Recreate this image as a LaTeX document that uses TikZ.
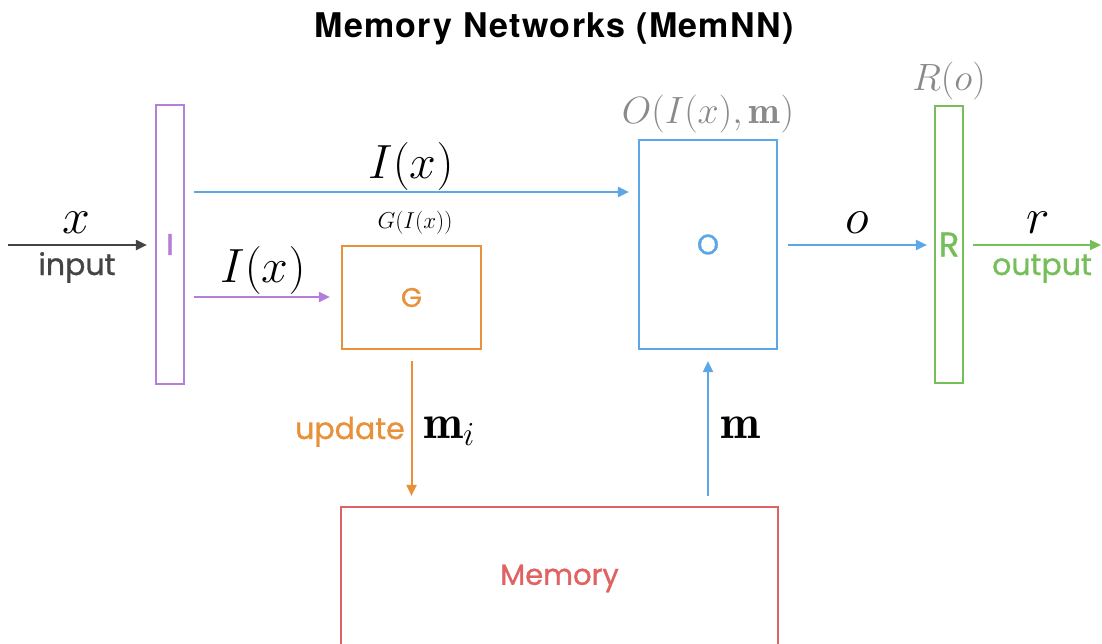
\RequirePackage{fix-cm}
\documentclass[tikz,border=0pt]{standalone}
\usepackage{fontspec}
\newfontfamily\titlefont[LetterSpace=4]{TeX Gyre Heros}
\newfontfamily\labelfont[FakeBold=1]{Poppins}
\usetikzlibrary{arrows.meta}

\definecolor{cPurple}{HTML}{B47FDB}
\definecolor{cBlue}{HTML}{5BA7E8}
\definecolor{cOrange}{HTML}{E8913A}
\definecolor{cGreen}{HTML}{76BE58}
\definecolor{cRed}{HTML}{DF6363}
\definecolor{cGray}{HTML}{8A8A8A}
\definecolor{cDark}{HTML}{444444}

\newcommand{\fs}[1]{\fontsize{#1}{#1}\selectfont}

\tikzset{
  unitbox/.style={draw=#1, text=#1, line width=2.2pt, inner sep=0pt,
    font=\labelfont},
  flow/.style={draw=#1, line width=2pt, -{Triangle[length=11pt,width=10pt]}},
  mathlbl/.style={anchor=base, inner sep=0pt},
  wordlbl/.style={anchor=base, inner sep=0pt, font=\labelfont\fs{30}},
}

\begin{document}
\begin{tikzpicture}[x=1pt, y=-1pt]
\useasboundingbox (0,0) rectangle (1102,643);
\clip (0,0) rectangle (1102,643);
\fill[white] (0,0) rectangle (1102,643);

% title
\node[anchor=base, inner sep=0pt, font=\titlefont\bfseries\fs{34}] (title) at (554,37) {Memory Networks (MemNN)};

% components
\node[unitbox=cPurple, minimum width=28pt, minimum height=279pt] (I) at (170,244.5) {\fs{30}I};
\node[unitbox=cOrange, minimum width=139pt, minimum height=103pt] (G) at (411.5,297.5) {\fs{27}G};
\node[unitbox=cBlue, minimum width=138pt, minimum height=209pt] (O) at (708,244.5) {\fs{28}O};
\node[unitbox=cGreen, minimum width=28pt, minimum height=277pt] (R) at (949,244.5) {\fs{34}R};
\node[unitbox=cRed, minimum width=437pt, minimum height=143pt] (Mem) at (559.5,578.5) {\fs{29}Memory};

% free ends
\coordinate (inStart) at (8,245);
\coordinate (outEnd) at (1101,245);

% connectors
\draw[flow=cDark, shorten >=8pt] (inStart) -- (I.west |- inStart);
\draw[flow=cBlue, shorten <=9pt, shorten >=9pt] (I.east |- 0,192) -- (O.west |- 0,192);
\draw[flow=cPurple, shorten <=9pt, shorten >=11pt] (I.east |- 0,297) -- (G.west |- 0,297);
\draw[flow=cBlue, shorten <=10pt, shorten >=7pt] (O.east |- 0,245) -- (R.west |- 0,245);
\draw[flow=cGreen, shorten <=9pt] (R.east |- outEnd) -- (outEnd);
\draw[flow=cOrange, shorten <=11pt, shorten >=10pt] (G.south) -- (G.south |- Mem.north);
\draw[flow=cBlue, shorten <=10pt, shorten >=11pt] (O.south |- Mem.north) -- (O.south);

% labels
\node[mathlbl, font=\fs{50}] (lx) at (76,233) {$x$};
\node[wordlbl, text=cDark] (linput) at (77,275) {input};
\node[mathlbl, font=\fs{48}] (lIx1) at (411,178) {$I(x)$};
\node[mathlbl, font=\fs{48}] (lIx2) at (263,282) {$I(x)$};
\node[mathlbl, font=\fs{23}] (lG) at (415,228) {$G(I(x))$};
\node[mathlbl, font=\fs{38}, text=cGray] (lO) at (708,123) {$O(I(x),\mathbf{m})$};
\node[mathlbl, font=\fs{38}, text=cGray] (lR) at (949,90) {$R(o)$};
\node[mathlbl, font=\fs{50}] (lo) at (857,233) {$o$};
\node[mathlbl, font=\fs{50}] (lr) at (1038,233) {$r$};
\node[wordlbl, text=cGreen] (loutput) at (1042,275) {output};
\node[wordlbl, text=cOrange] (lupdate) at (350,439) {update};
\node[mathlbl, font=\fs{48}, anchor=base west] (lmi) at (423,438) {$\mathbf{m}_i$};
\node[mathlbl, font=\fs{48}] (lm) at (740,438) {$\mathbf{m}$};
\end{tikzpicture}
\end{document}
